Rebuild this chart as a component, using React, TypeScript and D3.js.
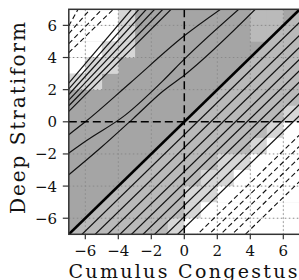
import React from 'react';
import * as d3 from 'd3';

const xTicks = [-6, -4, -2, 0, 2, 4, 6];
const yTicks = [-6, -4, -2, 0, 2, 4, 6];
const xLabel = 'Cumulus Congestus';
const yLabel = 'Deep Stratiform';

// upper-left solid band: y where each line leaves the left edge, x where it meets the top edge
const bandLeftY = [2.4, 2.05, 1.7, 1.35, 1.0, 0.65];
const bandTopX = [-3.2, -2.75, -2.3, -1.8, -1.3, -0.8];

// upper-left dashed lines
const dashLeftY = [5.97, 5.48, 4.86, 4.3];
const dashTopX = [-6.44, -5.7, -4.99, -4.3];

// curved solid contours above the diagonal
const curveA: [number, number][] = [[-7, -0.8], [-6, 0], [-3.3, 2.4], [0, 5.35], [2.2, 7]];
const curveB: [number, number][] = [[-7, -1.95], [-5.9, -1.15], [-3.6, 0.4], [-1.3, 2.55], [0, 3.9], [3.3, 7]];
const curveC: [number, number][] = [[-7, -3.3], [-5.1, -1.65], [-3.1, 0.2], [-1.3, 1.9], [0, 2.9], [4.3, 7]];

// straight contours below the diagonal (offset y - x)
const lowerSolidOffsets = [-0.8, -1.6, -2.35, -3.1, -3.8, -4.5, -5.2, -5.9, -6.6];
const lowerDashedOffsets = [-7.8, -8.5, -9.2, -9.9, -10.7];

// cell shading, rows from top (y 6..7) to bottom (y -7..-6), columns x -7..7
// W white, L light, l lighter-than-dark patch, . none
const shadeRows = [
  'WWWL.......ll.',
  'WWWL.......ll.',
  'WWLL..........',
  'WLL..........l',
  'LL...........l',
  '..............',
  '.............L',
  '............LW',
  '...........LWW',
  '.........LLWWW',
  '........LLWWWW',
  '.......LLWWWWW',
  '.......LWWWWWW',
  '......LWWWWWWW',
];
const shadeColors: Record<string, string> = { W: '#ffffff', L: '#d6d6d6', l: '#bababa' };
const darkFill = '#a5a5a5';
const midFill = '#b9b9b9';

const W = 299;
const H = 280;

export default function App() {
  const x = d3.scaleLinear().domain([-7, 7]).range([68.8, 299.8]);
  const y = d3.scaleLinear().domain([-7, 7]).range([234.3, 9.3]);
  const line = d3
    .line<[number, number]>()
    .x((d) => x(d[0]))
    .y((d) => y(d[1]));
  const curve = d3
    .line<[number, number]>()
    .x((d) => x(d[0]))
    .y((d) => y(d[1]))
    .curve(d3.curveMonotoneX);

  const x0 = x(-7), x1 = x(7), y0 = y(7), y1 = y(-7);
  const font = 'DejaVu Serif';

  const upperPoly: [number, number][] = [[-7, -7], [7, 7], [-7, 7]];
  const lowerPoly: [number, number][] = [[-7, -7], [7, -7], [7, 7]];

  const cells: JSX.Element[] = [];
  shadeRows.forEach((row, r) => {
    row.split('').forEach((ch, c) => {
      if (shadeColors[ch]) {
        cells.push(
          <rect
            key={`c${r}-${c}`}
            x={x(-7 + c)}
            y={y(7 - r)}
            width={x(-6 + c) - x(-7 + c) + 0.3}
            height={y(6 - r) - y(7 - r) + 0.3}
            fill={shadeColors[ch]}
          />
        );
      }
    });
  });

  return (
    <svg width={W} height={H} style={{ position: 'absolute', left: 0, top: 0, background: '#fff' }}>
      <defs>
        <clipPath id="plot">
          <rect x={x0} y={y0} width={x1 - x0} height={y1 - y0} />
        </clipPath>
      </defs>
      <g clipPath="url(#plot)">
        <path d={line(upperPoly) + 'Z'} fill={darkFill} />
        <path d={line(lowerPoly) + 'Z'} fill={midFill} />
        {cells}
        {xTicks.filter((t) => t !== 0).map((t) => (
          <line key={`gx${t}`} x1={x(t)} x2={x(t)} y1={y0} y2={y1} stroke="#8a8a8a" strokeWidth={1} strokeDasharray="1.5,2.5" />
        ))}
        {yTicks.filter((t) => t !== 0).map((t) => (
          <line key={`gy${t}`} y1={y(t)} y2={y(t)} x1={x0} x2={x1} stroke="#8a8a8a" strokeWidth={1} strokeDasharray="1.5,2.5" />
        ))}
        {bandLeftY.map((ly, i) => (
          <path key={`b${i}`} d={line([[-7, ly], [bandTopX[i], 7]]) || ''} fill="none" stroke="#111" strokeWidth={1.2} />
        ))}
        {dashLeftY.map((ly, i) => (
          <path key={`d${i}`} d={line([[-7, ly], [dashTopX[i], 7]]) || ''} fill="none" stroke="#111" strokeWidth={1.1} strokeDasharray="5,3" />
        ))}
        {[curveA, curveB, curveC].map((pts, i) => (
          <path key={`cv${i}`} d={curve(pts) || ''} fill="none" stroke="#111" strokeWidth={1.2} />
        ))}
        {lowerSolidOffsets.map((c, i) => (
          <path key={`ls${i}`} d={line([[-14, -14 + c], [14, 14 + c]]) || ''} fill="none" stroke="#111" strokeWidth={1.2} />
        ))}
        {lowerDashedOffsets.map((c, i) => (
          <path key={`ld${i}`} d={line([[-14, -14 + c], [14, 14 + c]]) || ''} fill="none" stroke="#111" strokeWidth={1.1} strokeDasharray="5,3" />
        ))}
        <line x1={x(0)} x2={x(0)} y1={y0} y2={y1} stroke="#000" strokeWidth={1.5} strokeDasharray="8,4" />
        <line x1={x0} x2={x1} y1={y(0)} y2={y(0)} stroke="#000" strokeWidth={1.5} strokeDasharray="8,4" />
        <path d={line([[-7, -7], [7, 7]]) || ''} stroke="#000" strokeWidth={2.6} fill="none" />
      </g>
      <rect x={x0} y={y0} width={x1 - x0} height={y1 - y0} fill="none" stroke="#333" strokeWidth={1.5} />
      {xTicks.map((t) => (
        <g key={`xt${t}`}>
          <line x1={x(t)} x2={x(t)} y1={y1} y2={y1 + 5} stroke="#333" strokeWidth={1.2} />
          <text x={x(t)} y={256} textAnchor="middle" fontFamily={font} fontSize={15} fill="#111">
            {t < 0 ? `\u2212${-t}` : `${t}`}
          </text>
        </g>
      ))}
      {yTicks.map((t) => (
        <g key={`yt${t}`}>
          <line x1={x0 - 6} x2={x0} y1={y(t)} y2={y(t)} stroke="#333" strokeWidth={1.2} />
          <text x={57} y={y(t) + 5.5} textAnchor="end" fontFamily={font} fontSize={15} fill="#111">
            {t < 0 ? `\u2212${-t}` : `${t}`}
          </text>
        </g>
      ))}
      <text x={183} y={277.5} textAnchor="middle" fontFamily={font} fontSize={19} fill="#111" textLength={229} lengthAdjust="spacing">
        {xLabel}
      </text>
      <text transform={`translate(25,118) rotate(-90)`} textAnchor="middle" fontFamily={font} fontSize={20} fill="#111" textLength={192} lengthAdjust="spacing">
        {yLabel}
      </text>
    </svg>
  );
}
